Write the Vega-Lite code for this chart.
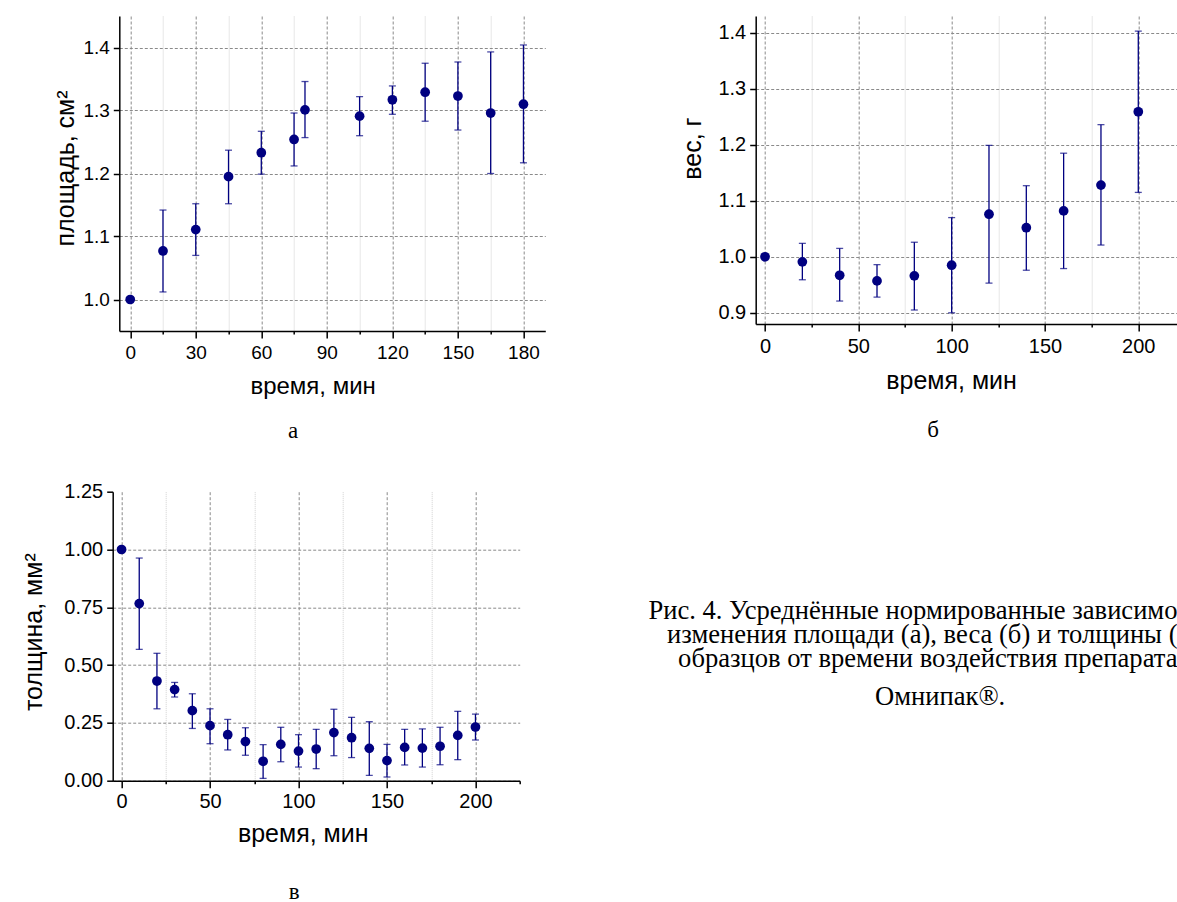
{
  "$schema": "https://vega.github.io/schema/vega-lite/v6.json",
  "background": "white",
  "padding": {"left": 21.7, "top": 16, "right": 0, "bottom": 0},
  "config": {
    "view": {"stroke": null},
    "font": "Liberation Sans",
    "axis": {"labelFont": "Liberation Sans", "titleFont": "Liberation Sans", "titleFontWeight": "normal", "labelColor": "#000", "titleColor": "#000", "domainColor": "#000", "domainWidth": 1.5, "tickColor": "#000", "tickWidth": 1.5, "gridWidth": 1, "grid": true, "labelFlush": false, "labelOverlap": false},
    "title": {"font": "Liberation Serif", "fontWeight": "normal", "color": "#000", "fontSize": 23}
  },
  "title": {"text": "Омнипак®.", "orient": "bottom", "anchor": "start", "frame": "group", "dx": 762.3, "offset": -198.7, "baseline": "alphabetic", "fontSize": 26.6},
  "datasets": {
    "area": [
      {"t": 0, "v": 1.000},
      {"t": 15, "v": 1.077, "lo": 1.012, "hi": 1.142},
      {"t": 30, "v": 1.111, "lo": 1.070, "hi": 1.152},
      {"t": 45, "v": 1.195, "lo": 1.152, "hi": 1.237},
      {"t": 60, "v": 1.233, "lo": 1.199, "hi": 1.267},
      {"t": 75, "v": 1.254, "lo": 1.212, "hi": 1.296},
      {"t": 80, "v": 1.301, "lo": 1.257, "hi": 1.346},
      {"t": 105, "v": 1.291, "lo": 1.260, "hi": 1.322},
      {"t": 120, "v": 1.317, "lo": 1.294, "hi": 1.339},
      {"t": 135, "v": 1.329, "lo": 1.283, "hi": 1.375},
      {"t": 150, "v": 1.323, "lo": 1.269, "hi": 1.377},
      {"t": 165, "v": 1.296, "lo": 1.200, "hi": 1.393},
      {"t": 180, "v": 1.310, "lo": 1.217, "hi": 1.404}
    ],
    "weight": [
      {"t": 0, "v": 1.000},
      {"t": 20, "v": 0.991, "lo": 0.959, "hi": 1.024},
      {"t": 40, "v": 0.967, "lo": 0.921, "hi": 1.015},
      {"t": 60, "v": 0.957, "lo": 0.928, "hi": 0.986},
      {"t": 80, "v": 0.966, "lo": 0.905, "hi": 1.026},
      {"t": 100, "v": 0.985, "lo": 0.900, "hi": 1.070},
      {"t": 120, "v": 1.076, "lo": 0.953, "hi": 1.199},
      {"t": 140, "v": 1.052, "lo": 0.976, "hi": 1.127},
      {"t": 160, "v": 1.082, "lo": 0.979, "hi": 1.185},
      {"t": 180, "v": 1.128, "lo": 1.021, "hi": 1.236},
      {"t": 200, "v": 1.259, "lo": 1.115, "hi": 1.403}
    ],
    "thickness": [
      {"t": 0, "v": 1.000},
      {"t": 10, "v": 0.766, "lo": 0.568, "hi": 0.963},
      {"t": 20, "v": 0.431, "lo": 0.311, "hi": 0.551},
      {"t": 30, "v": 0.394, "lo": 0.362, "hi": 0.425},
      {"t": 40, "v": 0.303, "lo": 0.226, "hi": 0.376},
      {"t": 50, "v": 0.238, "lo": 0.160, "hi": 0.311},
      {"t": 60, "v": 0.199, "lo": 0.133, "hi": 0.265},
      {"t": 70, "v": 0.169, "lo": 0.110, "hi": 0.229},
      {"t": 80, "v": 0.084, "lo": 0.010, "hi": 0.156},
      {"t": 90, "v": 0.157, "lo": 0.082, "hi": 0.231},
      {"t": 100, "v": 0.128, "lo": 0.059, "hi": 0.199},
      {"t": 110, "v": 0.137, "lo": 0.052, "hi": 0.222},
      {"t": 120, "v": 0.208, "lo": 0.108, "hi": 0.309},
      {"t": 130, "v": 0.186, "lo": 0.100, "hi": 0.274},
      {"t": 140, "v": 0.140, "lo": 0.023, "hi": 0.255},
      {"t": 150, "v": 0.087, "lo": 0.016, "hi": 0.157},
      {"t": 160, "v": 0.144, "lo": 0.068, "hi": 0.222},
      {"t": 170, "v": 0.141, "lo": 0.059, "hi": 0.224},
      {"t": 180, "v": 0.149, "lo": 0.069, "hi": 0.231},
      {"t": 190, "v": 0.196, "lo": 0.091, "hi": 0.300},
      {"t": 200, "v": 0.232, "lo": 0.176, "hi": 0.288}
    ]
  },
  "columns": 2,
  "bounds": "flush",
  "align": "each",
  "spacing": {"row": 160.7, "column": 210},
  "concat": [
    {
      "width": 432.6, "height": 315,
      "data": {"name": "area"},
      "title": {"text": "а", "orient": "bottom", "anchor": "middle", "frame": "group", "offset": 22, "dx": -36},
      "encoding": {
        "x": {"field": "t", "type": "quantitative", "scale": {"domain": [-5, 190], "range": [6.6, 432.6], "nice": false, "zero": false},
          "axis": {"values": [0,15,30,45,60,75,90,105,120,135,150,165,180], "format": "d",
            "labelExpr": "datum.value % 30 === 0 ? datum.label : ''",
            "labelFontSize": 19, "labelPadding": 5,
            "tickSize": {"condition": {"test": "datum.value % 30 === 0", "value": 7}, "value": 3},
            "gridColor": {"condition": {"test": "datum.value % 30 === 0", "value": "#8a8a8a"}, "value": "#d0d0d0"},
            "gridDash": {"condition": {"test": "datum.value % 30 === 0", "value": [3, 2]}, "value": [1, 1]},
            "title": "время, мин", "titleFontSize": 24, "titleX": 199.9, "titleY": 62, "titleBaseline": "alphabetic", "titleAlign": "center"}}
      },
      "layer": [
        {"mark": {"type": "rule", "color": "#000080", "strokeWidth": 1.3},
         "encoding": {"y": {"field": "lo", "type": "quantitative", "scale": {"domain": [0.95, 1.45], "nice": false, "zero": false},
           "axis": {"values": [1.0,1.05,1.1,1.15,1.2,1.25,1.3,1.35,1.4,1.45], "format": ".1f", "offset": -6.6,
             "labelExpr": "abs(datum.value*10-round(datum.value*10))<0.001 ? datum.label : ''",
             "labelFontSize": 19, "labelPadding": 4,
             "tickSize": {"condition": {"test": "abs(datum.value*10-round(datum.value*10))<0.001", "value": 6}, "value": 3},
             "gridColor": {"condition": {"test": "abs(datum.value*10-round(datum.value*10))<0.001", "value": "#8a8a8a"}, "value": "#d0d0d0"},
             "gridDash": {"condition": {"test": "abs(datum.value*10-round(datum.value*10))<0.001", "value": [3, 2]}, "value": [1, 1]},
             "gridOpacity": {"condition": {"test": "datum.value > 1.42", "value": 0}, "value": 1},
             "title": "площадь, см²", "titleFontSize": 25, "titleAngle": 270, "titleX": -46, "titleY": 152, "titleBaseline": "alphabetic", "titleAlign": "center"}},
           "y2": {"field": "hi"}}},
        {"mark": {"type": "tick", "orient": "horizontal", "size": 7, "thickness": 1.3, "color": "#000080"},
         "encoding": {"y": {"field": "lo", "type": "quantitative"}}},
        {"mark": {"type": "tick", "orient": "horizontal", "size": 7, "thickness": 1.3, "color": "#000080"},
         "encoding": {"y": {"field": "hi", "type": "quantitative"}}},
        {"mark": {"type": "circle", "size": 95, "opacity": 1, "color": "#000080"},
         "encoding": {"y": {"field": "v", "type": "quantitative"}}}
      ]
    },
    {
      "width": 421.8, "height": 308,
      "data": {"name": "weight"},
      "title": {"text": "б", "orient": "bottom", "anchor": "middle", "frame": "group", "offset": 26, "dx": -33.6},
      "encoding": {
        "x": {"field": "t", "type": "quantitative", "scale": {"domain": [-5, 221], "nice": false, "zero": false},
          "axis": {"values": [0,25,50,75,100,125,150,175,200], "format": "d",
            "labelExpr": "datum.value % 50 === 0 ? datum.label : ''",
            "labelFontSize": 20, "labelPadding": 5,
            "tickSize": {"condition": {"test": "datum.value % 50 === 0", "value": 7}, "value": 3},
            "gridColor": {"condition": {"test": "datum.value % 50 === 0", "value": "#8a8a8a"}, "value": "#d0d0d0"},
            "gridDash": {"condition": {"test": "datum.value % 50 === 0", "value": [3, 2]}, "value": [1, 1]},
            "title": "время, мин", "titleFontSize": 25, "titleX": 195.4, "titleY": 64, "titleBaseline": "alphabetic", "titleAlign": "center"}}
      },
      "layer": [
        {"mark": {"type": "rule", "color": "#000080", "strokeWidth": 1.3},
         "encoding": {"y": {"field": "lo", "type": "quantitative", "scale": {"domain": [0.88, 1.43], "nice": false, "zero": false},
           "axis": {"values": [0.9,0.95,1.0,1.05,1.1,1.15,1.2,1.25,1.3,1.35,1.4], "format": ".1f",
             "labelExpr": "abs(datum.value*10-round(datum.value*10))<0.001 ? datum.label : ''",
             "labelFontSize": 20, "labelPadding": 4,
             "tickSize": {"condition": {"test": "abs(datum.value*10-round(datum.value*10))<0.001", "value": 6}, "value": 3},
             "gridColor": {"condition": {"test": "abs(datum.value*10-round(datum.value*10))<0.001", "value": "#8a8a8a"}, "value": "#d0d0d0"},
             "gridDash": {"condition": {"test": "abs(datum.value*10-round(datum.value*10))<0.001", "value": [3, 2]}, "value": [1, 1]},
             "title": "вес, г", "titleFontSize": 25, "titleAngle": 270, "titleX": -55, "titleY": 132, "titleBaseline": "alphabetic", "titleAlign": "center"}},
           "y2": {"field": "hi"}}},
        {"mark": {"type": "tick", "orient": "horizontal", "size": 7, "thickness": 1.3, "color": "#000080"},
         "encoding": {"y": {"field": "lo", "type": "quantitative"}}},
        {"mark": {"type": "tick", "orient": "horizontal", "size": 7, "thickness": 1.3, "color": "#000080"},
         "encoding": {"y": {"field": "hi", "type": "quantitative"}}},
        {"mark": {"type": "circle", "size": 95, "opacity": 1, "color": "#000080"},
         "encoding": {"y": {"field": "v", "type": "quantitative"}}}
      ]
    },
    {
      "width": 407, "height": 289,
      "data": {"name": "thickness"},
      "title": {"text": "в", "orient": "bottom", "anchor": "middle", "frame": "group", "offset": 34, "dx": -22},
      "encoding": {
        "x": {"field": "t", "type": "quantitative", "scale": {"domain": [-5, 225], "nice": false, "zero": false},
          "axis": {"values": [0,25,50,75,100,125,150,175,200,225], "format": "d",
            "labelExpr": "datum.value % 50 === 0 ? datum.label : ''",
            "labelFontSize": 20, "labelPadding": 4,
            "tickSize": {"condition": {"test": "datum.value % 50 === 0", "value": 7}, "value": 3},
            "gridColor": {"condition": {"test": "datum.value % 50 === 0", "value": "#8a8a8a"}, "value": "#d0d0d0"},
            "gridDash": {"condition": {"test": "datum.value % 50 === 0", "value": [3, 2]}, "value": [1, 1]},
            "gridOpacity": {"condition": {"test": "datum.value > 220", "value": 0}, "value": 1},
            "title": "время, мин", "titleFontSize": 25, "titleX": 190, "titleY": 61, "titleBaseline": "alphabetic", "titleAlign": "center"}}
      },
      "layer": [
        {"mark": {"type": "rule", "color": "#000080", "strokeWidth": 1.3},
         "encoding": {"y": {"field": "lo", "type": "quantitative", "scale": {"domain": [0, 1.25], "nice": false, "zero": false},
           "axis": {"values": [0,0.125,0.25,0.375,0.5,0.625,0.75,0.875,1.0,1.125,1.25], "format": ".2f",
             "labelExpr": "abs(datum.value*4-round(datum.value*4))<0.001 ? datum.label : ''",
             "labelFontSize": 20, "labelPadding": 4,
             "tickSize": {"condition": {"test": "abs(datum.value*4-round(datum.value*4))<0.001", "value": 6}, "value": 3},
             "gridColor": {"condition": {"test": "abs(datum.value*4-round(datum.value*4))<0.001", "value": "#8a8a8a"}, "value": "#d0d0d0"},
             "gridDash": {"condition": {"test": "abs(datum.value*4-round(datum.value*4))<0.001", "value": [3, 2]}, "value": [1, 1]},
             "gridOpacity": {"condition": {"test": "datum.value > 1.2", "value": 0}, "value": 1},
             "title": "толщина, мм²", "titleFontSize": 25, "titleAngle": 270, "titleX": -71, "titleY": 140, "titleBaseline": "alphabetic", "titleAlign": "center"}},
           "y2": {"field": "hi"}}},
        {"mark": {"type": "tick", "orient": "horizontal", "size": 7, "thickness": 1.3, "color": "#000080"},
         "encoding": {"y": {"field": "lo", "type": "quantitative"}}},
        {"mark": {"type": "tick", "orient": "horizontal", "size": 7, "thickness": 1.3, "color": "#000080"},
         "encoding": {"y": {"field": "hi", "type": "quantitative"}}},
        {"mark": {"type": "circle", "size": 95, "opacity": 1, "color": "#000080"},
         "encoding": {"y": {"field": "v", "type": "quantitative"}}}
      ]
    },
    {
      "width": 421.8, "height": 100, "data": {"values": []}, "mark": "point",
      "title": {"text": ["Рис. 4. Усреднённые нормированные зависимо", "изменения площади (а), веса (б) и толщины (", "образцов от времени воздействия препарата"],
        "orient": "bottom", "anchor": "end", "frame": "group", "fontSize": 26.6, "lineHeight": 24, "offset": 6.8}
    }
  ]
}
